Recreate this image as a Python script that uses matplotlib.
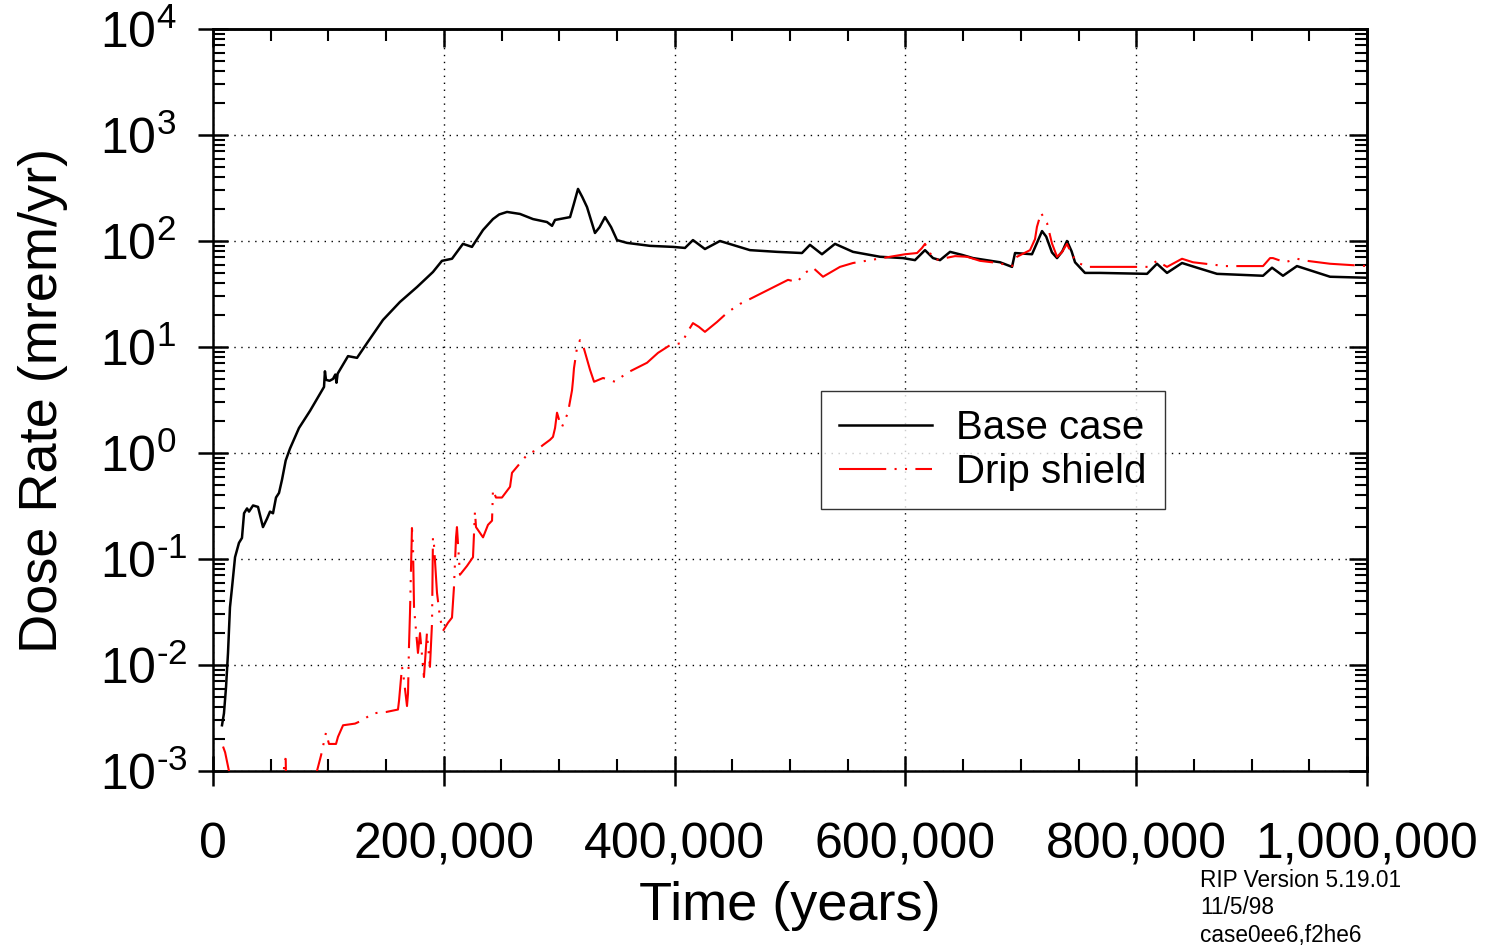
import math
import matplotlib
matplotlib.use("Agg")
import matplotlib.pyplot as plt
from matplotlib.ticker import MultipleLocator, FuncFormatter, LogLocator, NullFormatter

plt.rcParams['font.family'] = ['Liberation Sans', 'DejaVu Sans']
plt.rcParams['mathtext.fontset'] = 'custom'
plt.rcParams['mathtext.rm'] = 'Liberation Sans'
plt.rcParams['mathtext.it'] = 'Liberation Sans'
plt.rcParams['lines.scale_dashes'] = False

# ---- data ----
base_years = [7800, 9500, 11300, 13000, 14700, 16500, 19100, 22500, 25100, 26900,
              29500, 31200, 34700, 39000, 43300, 46800, 49400, 52000, 54600, 57200,
              59800, 63000, 66700, 74500, 84100, 96200, 97000, 97900, 101000, 104000,
              106000, 107000, 108000, 117000, 124800, 133500, 147300, 162000, 176800, 190600,
              198400, 207100, 216600, 224400, 234000, 242600, 248000, 254800, 266000, 277300, 289400,
              293800, 296400, 309400, 312500, 316300, 320000, 324100, 331000, 335000, 339700, 345000,
              350100, 358700, 378700,
              398600, 409000, 415900, 426300, 439300, 465300, 488700, 510400, 517300, 527700,
              539000, 554600, 578000, 597900, 608300, 617000, 623900, 630000, 638700, 649000,
              658600, 682000, 692400, 695000, 709700, 714000, 718400, 722000, 727000, 731400,
              736000, 740000, 744000, 747000, 755600, 768600, 809400, 818000, 826700, 839700,
              852700, 870000, 909900, 917700, 927200, 939300, 968000, 1000000]
base_dose = [2.7e-3, 3.5e-3, 6.2e-3, 0.013, 0.035, 0.054, 0.104, 0.142, 0.158, 0.27,
             0.30, 0.28, 0.32, 0.31, 0.20, 0.24, 0.28, 0.27, 0.38, 0.42,
             0.56, 0.85, 1.1, 1.72, 2.5, 4.2, 5.9, 4.9, 4.8, 5.0,
             5.5, 4.6, 5.6, 8.2, 7.9, 10.9, 18, 26.6, 36.8, 51,
             65, 68, 94, 88, 127, 161, 178, 188, 180, 161, 151,
             139, 158, 168, 220, 310, 260, 209, 119, 135, 168, 135,
             102, 96, 90,
             88, 86, 102, 84, 100, 82, 79, 77, 92, 75,
             94, 79, 71, 69, 66, 82, 69, 66, 79, 74,
             69, 63, 57, 77, 75, 96, 124, 110, 78, 69,
             80, 100, 80, 63, 50, 50, 49, 61, 50, 62,
             56, 49, 47, 56, 47, 58, 46, 45]

drip_years = [8700, 10500, 14700, 16000, 60500, 61800, 63000, 63600, 88000, 90100,
              93600, 97900, 100500, 106600, 108300, 112700, 123100, 129100, 138600, 149900,
              160300, 161200, 163800, 165500, 168100, 169000, 169800, 170700, 171600, 172400,
              173300, 174200, 177600, 179400, 182800, 185400, 188000, 189800, 190600, 191500,
              194100, 196700, 199300, 203600, 207100, 208800, 210600, 211400, 214000, 220100,
              225300, 227000, 227900, 234000, 238300, 241800, 242600, 245200, 250400, 257400,
              259100, 266000, 272100, 274700, 280800, 286000, 292000, 294600, 296400, 298100,
              300700, 302400, 305000, 307600, 311100, 312000, 312800, 315400, 318000, 320600,
              326700, 330200, 338000, 348400, 358700, 376100, 385600, 396000, 406400, 410700,
              415900, 421000, 426300, 436700, 446300, 456700, 467100, 498300, 506100, 513000, 519900,
              528600, 543300, 554600, 569300, 579700, 589300, 599700, 610100, 614400, 617000,
              621300, 625700, 631700, 643000, 653400, 664600, 680200, 692400, 696700, 708000,
              712300, 714000, 717500, 722700, 727000, 731400, 735500, 740000, 744000, 748700,
              757400, 779000, 810200,
              818000, 826700, 839700, 849200, 877000, 909900, 916000, 918500, 928900, 939300,
              948000, 968000, 1000000]
drip_dose = [1.7e-3, 1.5e-3, 9e-4, 5e-4, 5e-4, 1.3e-3, 1.3e-3, 5e-4, 5e-4, 1.0e-3,
             1.4e-3, 2.3e-3, 1.8e-3, 1.8e-3, 2.1e-3, 2.7e-3, 2.8e-3, 3.0e-3, 3.5e-3, 3.6e-3,
             3.8e-3, 4.6e-3, 9.6e-3, 7.2e-3, 4.1e-3, 5.4e-3, 0.0145, 0.031, 0.082, 0.196,
             0.136, 0.035, 0.013, 0.020, 7.7e-3, 0.020, 9.6e-3, 0.025, 0.16, 0.136,
             0.048, 0.028, 0.021, 0.025, 0.028, 0.054, 0.16, 0.20, 0.071, 0.086,
             0.104, 0.28, 0.20, 0.16, 0.21, 0.23, 0.45, 0.38, 0.38, 0.48,
             0.65, 0.80, 0.96, 1.0, 1.07, 1.19, 1.33, 1.42, 1.72, 2.4,
             1.92, 1.76, 2.05, 2.4, 3.9, 4.9, 6.3, 9.8, 11.6, 10.4,
             6.1, 4.7, 5.1, 4.7, 5.7, 7.1, 8.8, 10.4, 10.9, 13.6,
             16.8, 15.5, 13.9, 17.2, 21.4, 25.5, 29, 43, 41, 50, 56,
             46, 57, 62, 66, 69, 72, 75, 77, 86, 94,
             77, 66, 68, 72, 71, 65, 62, 58, 71, 82,
             104, 136, 184, 148, 95, 71, 78, 94, 75, 63,
             57, 57, 57,
             65, 57, 68, 63, 58, 58, 69, 69, 63, 68,
             65, 61, 58]

x_ticks = [0, 200000, 400000, 600000, 800000, 1000000]
series_labels = ["Base case", "Drip shield"]
x_label = "Time (years)"
y_label = "Dose Rate (mrem/yr)"
stamp = "RIP Version 5.19.01\n11/5/98\ncase0ee6,f2he6"


def y_fmt(v, p):
    e = int(round(math.log10(v)))
    if e < 0:
        return r"$\mathregular{10^{\text{-}%d}}$" % (-e)
    return r"$\mathregular{10^{%d}}$" % e


# ---- figure ----
W, H = 1485, 948
fig = plt.figure(figsize=(W / 100, H / 100), dpi=100)
ax = fig.add_axes([213 / W, 1 - 771 / H, (1367 - 213) / W, (771 - 29) / H])

ax.plot(base_years, base_dose, color='black', lw=1.8, label=series_labels[0], zorder=3)
ax.plot(drip_years, drip_dose, color='red', lw=1.5, label=series_labels[1],
        linestyle=(0, (34, 6, 1.5, 6, 1.5, 6)), zorder=4)

ax.set_yscale('log')
ax.set_xlim(0, 1000000)
ax.set_ylim(1e-3, 1e4)

ax.set_xticks(x_ticks)
ax.xaxis.set_minor_locator(MultipleLocator(50000))
ax.xaxis.set_major_formatter(FuncFormatter(lambda v, p: f"{int(round(v)):,}"))
ax.yaxis.set_major_locator(LogLocator(base=10, numticks=20))
ax.yaxis.set_minor_locator(LogLocator(base=10, subs=range(2, 10), numticks=20))
ax.yaxis.set_minor_formatter(NullFormatter())
ax.yaxis.set_major_formatter(FuncFormatter(y_fmt))

for s in ax.spines.values():
    s.set_linewidth(1.8)

ax.tick_params(axis='both', which='major', direction='inout', length=22, width=1.8,
               labelsize=36, top=False, right=False)
ax.tick_params(axis='both', which='minor', direction='in', length=8.5, width=1.5,
               top=False, right=False)
ax.tick_params(axis='x', which='major', pad=26)
ax.tick_params(axis='y', which='major', pad=70)
for t in ax.yaxis.get_major_ticks():
    t.label1.set_horizontalalignment('left')

# top & right ticks (inward only)
sx = ax.secondary_xaxis('top')
sx.set_xticks(x_ticks)
sx.xaxis.set_minor_locator(MultipleLocator(50000))
sx.tick_params(which='major', direction='in', length=13, width=1.8, labeltop=False)
sx.tick_params(which='minor', direction='in', length=8.5, width=1.5)
sx.spines['top'].set_linewidth(1.8)
sy = ax.secondary_yaxis('right')
sy.yaxis.set_major_locator(LogLocator(base=10, numticks=20))
sy.yaxis.set_minor_locator(LogLocator(base=10, subs=range(2, 10), numticks=20))
sy.tick_params(which='major', direction='in', length=13, width=1.8, labelright=False)
sy.tick_params(which='minor', direction='in', length=8.5, width=1.5, labelright=False)
sy.spines['right'].set_linewidth(1.8)

ax.grid(True, which='major', color='black', linestyle=(0, (1, 4)), linewidth=1.0)

ax.set_xlabel(x_label, fontsize=39, labelpad=9)
ax.set_ylabel(y_label, fontsize=39)
ax.yaxis.set_label_coords((68 - 213) / 1154, 0.5)

leg = ax.legend(loc='upper left', bbox_to_anchor=(0.527, 0.512), borderaxespad=0,
                fontsize=29, frameon=True, fancybox=False, shadow=False,
                handlelength=2.3, handletextpad=0.6, borderpad=0.45, labelspacing=0.15)
leg.get_frame().set_edgecolor('black')
leg.get_frame().set_linewidth(1.0)

fig.text(1200 / W, 1 - 869 / H, stamp, fontsize=16.3, va='top', ha='left', linespacing=1.24)

fig.savefig("out.png", dpi=100)
